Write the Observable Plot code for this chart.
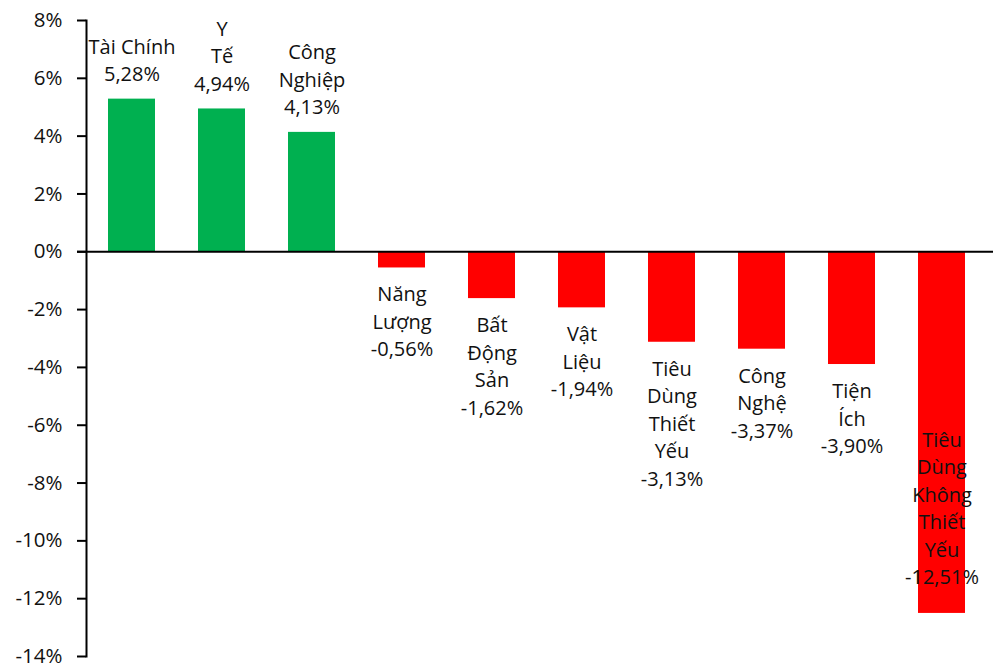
<!DOCTYPE html>
<html>
<head>
<meta charset="utf-8">
<script src="https://cdn.jsdelivr.net/npm/d3@7"></script>
<script src="https://cdn.jsdelivr.net/npm/@observablehq/plot@0.6"></script>
<style>
  html, body { margin: 0; padding: 0; background: #fff; }
  #chart svg { display: block; font-family: "Open Sans", sans-serif; }
</style>
</head>
<body>
<div id="chart"></div>
<script>
const categories = ["Tài Chính", "Y Tế", "Công Nghiệp", "Năng Lượng", "Bất Động Sản", "Vật Liệu", "Tiêu Dùng Thiết Yếu", "Công Nghệ", "Tiện Ích", "Tiêu Dùng Không Thiết Yếu"];
const labelLines = ["Tài Chính", "Y\nTế", "Công\nNghiệp", "Năng\nLượng", "Bất\nĐộng\nSản", "Vật\nLiệu", "Tiêu\nDùng\nThiết\nYếu", "Công\nNghệ", "Tiện\nÍch", "Tiêu\nDùng\nKhông\nThiết\nYếu"];
const values = [5.28, 4.94, 4.13, -0.56, -1.62, -1.94, -3.13, -3.37, -3.90, -12.51];
const yTicks = [-14, -12, -10, -8, -6, -4, -2, 0, 2, 4, 6, 8];

const fmt = v => v.toFixed(2).replace(".", ",") + "%";
const data = categories.map((c, i) => ({
  category: c,
  value: values[i],
  label: labelLines[i] + "\n" + fmt(values[i])
}));

const GREEN = "#00B050", RED = "#FF0000";

const chart = Plot.plot({
  width: 997,
  height: 664,
  marginLeft: 86,
  marginRight: 9,
  marginTop: 20,
  marginBottom: 8,
  style: { fontFamily: "'Open Sans', sans-serif", overflow: "visible" },
  x: { domain: categories, paddingInner: 0.473, paddingOuter: 0.23, axis: null },
  y: { domain: [-14, 8], axis: null, label: null },
  marks: [
    Plot.barY(data, { x: "category", y: "value", fill: d => d.value >= 0 ? GREEN : RED }),
    Plot.ruleY([0], { stroke: "#000", strokeWidth: 2, insetLeft: -9, insetRight: -5 }),
    Plot.frame({ anchor: "left", stroke: "#000", strokeWidth: 2 }),
    Plot.axisY({ ticks: yTicks, label: null, tickSize: 9, tickPadding: 15, strokeWidth: 2, fontSize: 20.5, fill: "#111", tickFormat: d => `${d}%` }),
    Plot.text(data.filter(d => d.value >= 0), { x: "category", y: "value", text: "label", lineAnchor: "bottom", lineHeight: 1.375, dy: -18, fontSize: 20, fill: "#111" }),
    Plot.text(data.filter(d => d.value < 0 && d.value > -10), { x: "category", y: "value", text: "label", lineAnchor: "top", lineHeight: 1.375, dy: 14, fontSize: 20, fill: "#111" }),
    Plot.text(data.filter(d => d.value <= -10), { x: "category", y: "value", text: "label", lineAnchor: "bottom", lineHeight: 1.375, dy: -29, fontSize: 20, fill: "#111" })
  ]
});
document.getElementById("chart").appendChild(chart);
</script>
</body>
</html>
